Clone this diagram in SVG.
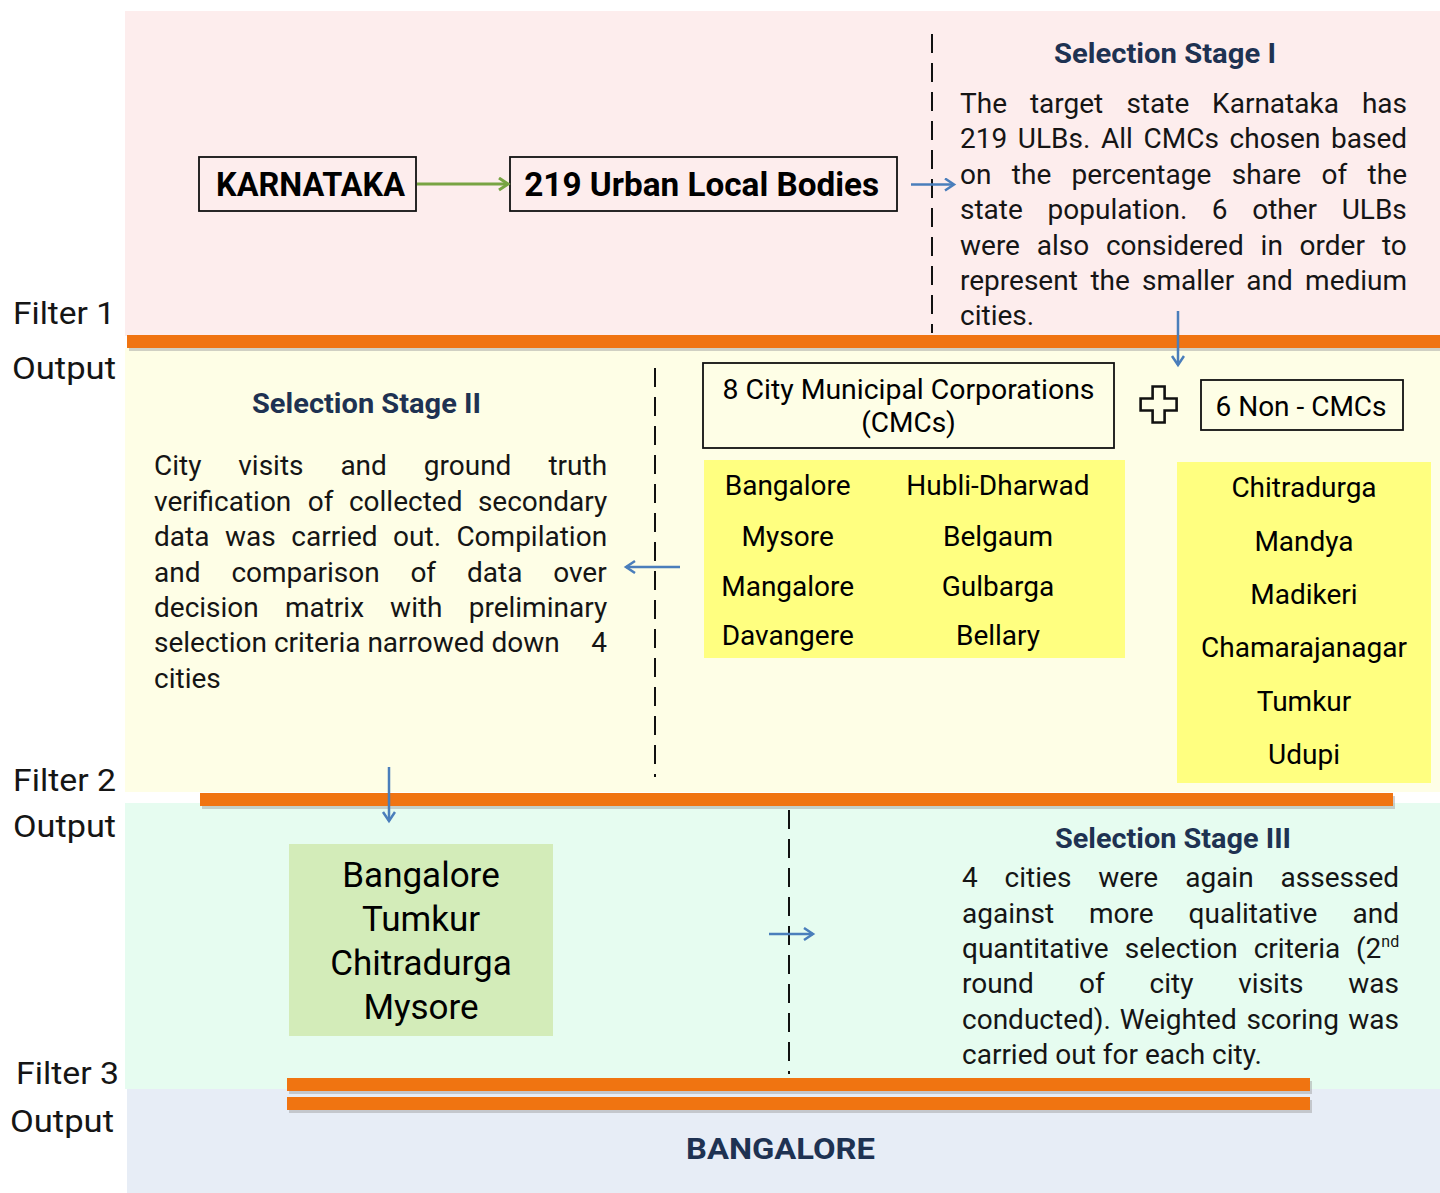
<svg xmlns="http://www.w3.org/2000/svg" width="1440" height="1193" viewBox="0 0 1440 1193">
<style>
text{font-family:Roboto,"Liberation Sans",sans-serif;fill:#151515}
.lbl{font-size:32px}
.body{font-size:28px}
.ttl{font-size:28px;font-weight:700;fill:#1e3252;text-anchor:middle}
.bold{font-size:33px;font-weight:700;text-anchor:middle;fill:#000}
.mid{font-size:28px;text-anchor:middle;fill:#000}
.big{font-size:35px;text-anchor:middle;fill:#000}
.box{fill:none;stroke:#111;stroke-width:1.8}
.bar{fill:#f07411}
.sh{fill:#9a9a9a;opacity:.45}
.dash{stroke:#111;stroke-width:2;stroke-dasharray:19 10;fill:none}
.blue{stroke:#4a7ebb;stroke-width:2.5;fill:none;marker-end:url(#ab)}
.green{stroke:#78a443;stroke-width:3;fill:none;marker-end:url(#ag)}
</style>
<defs>
<marker id="ab" markerUnits="userSpaceOnUse" markerWidth="14" markerHeight="16" refX="10" refY="7" orient="auto"><path d="M1,1 L10,7 L1,13" fill="none" stroke="#4a7ebb" stroke-width="2.5"/></marker>
<marker id="ag" markerUnits="userSpaceOnUse" markerWidth="14" markerHeight="16" refX="10" refY="7" orient="auto"><path d="M1,1 L10,7 L1,13" fill="none" stroke="#78a443" stroke-width="3"/></marker>
</defs>
<rect width="1440" height="1193" fill="#fff"/>
<g id="bands">
<rect x="125" y="11" width="1315" height="325" fill="#fdeded"/>
<rect x="125" y="348" width="1315" height="444" fill="#fefee6"/>
<rect x="125" y="803" width="1315" height="286" fill="#e6fcf0"/>
<rect x="127" y="1089" width="1313" height="104" fill="#e7edf6"/>
</g>
<g id="filters">
<rect class="sh" x="129" y="338" width="1311" height="13"/>
<rect class="bar" x="127" y="335" width="1313" height="13"/>
<rect class="sh" x="202" y="796" width="1193" height="13"/>
<rect class="bar" x="200" y="793" width="1193" height="13"/>
<rect class="sh" x="289" y="1081" width="1023" height="13"/>
<rect class="bar" x="287" y="1078" width="1023" height="13"/>
<rect class="sh" x="289" y="1100" width="1023" height="13"/>
<rect class="bar" x="287" y="1097" width="1023" height="13"/>
</g>
<g id="side-labels">
<text class="lbl" x="13" y="324" textLength="102" lengthAdjust="spacingAndGlyphs">Filter 1</text>
<text class="lbl" x="12" y="379" textLength="104" lengthAdjust="spacingAndGlyphs">Output</text>
<text class="lbl" x="13" y="791" textLength="103" lengthAdjust="spacingAndGlyphs">Filter 2</text>
<text class="lbl" x="13" y="837" textLength="103" lengthAdjust="spacingAndGlyphs">Output</text>
<text class="lbl" x="16" y="1084" textLength="103" lengthAdjust="spacingAndGlyphs">Filter 3</text>
<text class="lbl" x="10" y="1132" textLength="104" lengthAdjust="spacingAndGlyphs">Output</text>
</g>
<g id="dividers">
<line class="dash" x1="932" y1="34" x2="932" y2="333"/>
<line class="dash" x1="655" y1="368" x2="655" y2="777"/>
<line class="dash" x1="789" y1="810" x2="789" y2="1074"/>
</g>
<g id="karnataka">
<rect class="box" x="199" y="157" width="217" height="54"/>
<text class="bold" x="310.5" y="196" textLength="189" lengthAdjust="spacingAndGlyphs">KARNATAKA</text>
</g>
<g id="ulbs">
<rect class="box" x="510" y="157" width="387" height="54"/>
<text class="bold" x="701.7" y="196" textLength="355" lengthAdjust="spacingAndGlyphs">219 Urban Local Bodies</text>
</g>
<g id="stage1">
<text class="ttl" x="1165" y="63" textLength="222" lengthAdjust="spacingAndGlyphs">Selection Stage I</text>
<text class="body"><tspan x="960" y="113">The </tspan><tspan x="1029.9">target </tspan><tspan x="1126.4">state </tspan><tspan x="1212.1">Karnataka </tspan><tspan x="1361.9">has</tspan></text>
<text class="body"><tspan x="960" y="148">219 </tspan><tspan x="1017.8">ULBs. </tspan><tspan x="1100.9">All </tspan><tspan x="1143.5">CMCs </tspan><tspan x="1229.6">chosen </tspan><tspan x="1331">based</tspan></text>
<text class="body"><tspan x="960" y="184">on </tspan><tspan x="1011.8">the </tspan><tspan x="1071.5">percentage </tspan><tspan x="1231.8">share </tspan><tspan x="1321.6">of </tspan><tspan x="1367.6">the</tspan></text>
<text class="body"><tspan x="960" y="219">state </tspan><tspan x="1047.6">population. </tspan><tspan x="1211.7">6 </tspan><tspan x="1252.2">other </tspan><tspan x="1341.7">ULBs</tspan></text>
<text class="body"><tspan x="960" y="255">were </tspan><tspan x="1036.8">also </tspan><tspan x="1105.9">considered </tspan><tspan x="1260.6">in </tspan><tspan x="1299.6">order </tspan><tspan x="1381.9">to</tspan></text>
<text class="body"><tspan x="960" y="290">represent </tspan><tspan x="1090.4">the </tspan><tspan x="1142">smaller </tspan><tspan x="1246.3">and </tspan><tspan x="1305.1">medium</tspan></text>
<text class="body" x="960" y="325">cities.</text>
</g>
<g id="stage2">
<text class="ttl" x="366.5" y="413" textLength="229" lengthAdjust="spacingAndGlyphs">Selection Stage II</text>
<text class="body"><tspan x="154" y="475">City </tspan><tspan x="238.3">visits </tspan><tspan x="340.4">and </tspan><tspan x="423.8">ground </tspan><tspan x="548.4">truth</tspan></text>
<text class="body"><tspan x="154" y="511">verification </tspan><tspan x="307.8">of </tspan><tspan x="348.9">collected </tspan><tspan x="477.9">secondary</tspan></text>
<text class="body"><tspan x="154" y="546">data </tspan><tspan x="225">was </tspan><tspan x="291.3">carried </tspan><tspan x="393.1">out. </tspan><tspan x="456.4">Compilation</tspan></text>
<text class="body"><tspan x="154" y="582">and </tspan><tspan x="231.4">comparison </tspan><tspan x="410.4">of </tspan><tspan x="467">data </tspan><tspan x="553.2">over</tspan></text>
<text class="body"><tspan x="154" y="617">decision </tspan><tspan x="284.9">matrix </tspan><tspan x="390.1">with </tspan><tspan x="468.7">preliminary</tspan></text>
<text class="body"><tspan x="154" y="652">selection criteria narrowed down </tspan><tspan x="591.3">4</tspan></text>
<text class="body" x="154" y="688">cities</text>
</g>
<g id="cmcs">
<rect class="box" x="703" y="363" width="411" height="85"/>
<text class="mid" x="908.5" y="399" textLength="372" lengthAdjust="spacingAndGlyphs">8 City Municipal Corporations</text>
<text class="mid" x="908.5" y="432">(CMCs)</text>
</g>
<g id="plus">
<path d="M1152.6,386.5 H1164.6 V398.5 H1176.6 V410.5 H1164.6 V422.5 H1152.6 V410.5 H1140.6 V398.5 H1152.6 Z" fill="none" stroke="#111" stroke-width="2.6" stroke-linejoin="miter"/>
</g>
<g id="non-cmcs">
<rect class="box" x="1201" y="380" width="202" height="50"/>
<text class="mid" x="1301" y="416">6 Non - CMCs</text>
</g>
<g id="cmc-list">
<rect x="704" y="460" width="421" height="198" fill="#ffff80"/>
<text class="mid" x="787.7" y="495">Bangalore</text>
<text class="mid" x="787.7" y="546">Mysore</text>
<text class="mid" x="787.7" y="596">Mangalore</text>
<text class="mid" x="787.7" y="645">Davangere</text>
<text class="mid" x="998" y="495">Hubli-Dharwad</text>
<text class="mid" x="998" y="546">Belgaum</text>
<text class="mid" x="998" y="596">Gulbarga</text>
<text class="mid" x="998" y="645">Bellary</text>
</g>
<g id="non-cmc-list">
<rect x="1177" y="462" width="254" height="321" fill="#ffff80"/>
<text class="mid" x="1304" y="497">Chitradurga</text>
<text class="mid" x="1304" y="551">Mandya</text>
<text class="mid" x="1304" y="604">Madikeri</text>
<text class="mid" x="1304" y="657">Chamarajanagar</text>
<text class="mid" x="1304" y="711">Tumkur</text>
<text class="mid" x="1304" y="764">Udupi</text>
</g>
<g id="shortlist">
<rect x="289" y="844" width="264" height="192" fill="#d3ecb9"/>
<text class="big" x="421" y="887">Bangalore</text>
<text class="big" x="421" y="931">Tumkur</text>
<text class="big" x="421" y="975">Chitradurga</text>
<text class="big" x="421" y="1019">Mysore</text>
</g>
<g id="stage3">
<text class="ttl" x="1173" y="848" textLength="236" lengthAdjust="spacingAndGlyphs">Selection Stage III</text>
<text class="body"><tspan x="962" y="887">4 </tspan><tspan x="1004.6">cities </tspan><tspan x="1098.2">were </tspan><tspan x="1185.2">again </tspan><tspan x="1280.5">assessed</tspan></text>
<text class="body"><tspan x="962" y="923">against </tspan><tspan x="1088.9">more </tspan><tspan x="1188.6">qualitative </tspan><tspan x="1352.5">and</tspan></text>
<text class="body"><tspan x="962" y="958">quantitative </tspan><tspan x="1124.7">selection </tspan><tspan x="1253.7">criteria </tspan><tspan x="1356">(2</tspan><tspan dy="-11" font-size="16">nd</tspan></text>
<text class="body"><tspan x="962" y="993">round </tspan><tspan x="1079">of </tspan><tspan x="1149.6">city </tspan><tspan x="1238.3">visits </tspan><tspan x="1348.3">was</tspan></text>
<text class="body"><tspan x="962" y="1029">conducted). </tspan><tspan x="1119.7">Weighted </tspan><tspan x="1246.4">scoring </tspan><tspan x="1348.3">was</tspan></text>
<text class="body" x="962" y="1064">carried out for each city.</text>
</g>
<g id="result">
<text x="780.5" y="1159" font-size="30" font-weight="700" fill="#1e3252" text-anchor="middle" textLength="189" lengthAdjust="spacingAndGlyphs" style="fill:#1e3252">BANGALORE</text>
</g>
<g id="connectors">
<line class="green" x1="417" y1="184" x2="508" y2="184"/>
<line class="blue" x1="911" y1="184.5" x2="954" y2="184.5"/>
<line class="blue" x1="1178" y1="311" x2="1178" y2="365"/>
<line class="blue" x1="680" y1="567" x2="626" y2="567"/>
<line class="blue" x1="389" y1="767" x2="389" y2="821"/>
<line class="blue" x1="769" y1="934" x2="813" y2="934"/>
</g>
</svg>
